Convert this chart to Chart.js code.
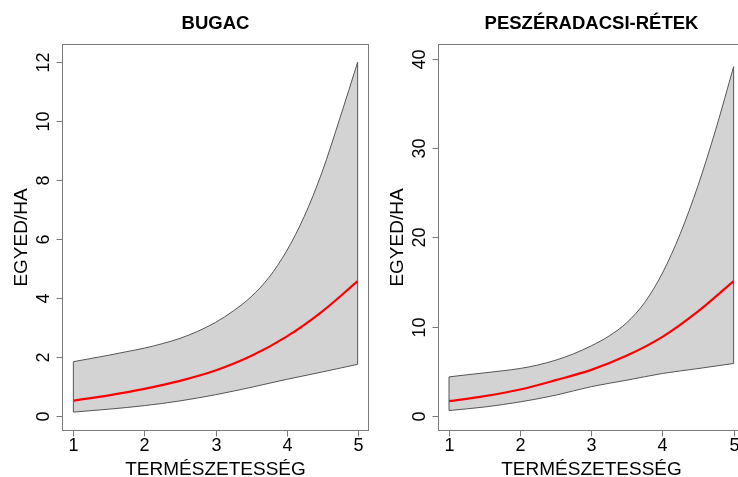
<!DOCTYPE html>
<html>
<head>
<meta charset="utf-8">
<script src="https://cdn.jsdelivr.net/npm/chart.js@4"></script>
<style>
  html, body { margin: 0; padding: 0; background: #fff; }
  #wrap { position: relative; width: 738px; height: 477px; overflow: hidden; }
  #c1 { position: absolute; left: 0; top: 0; }
  #c2 { position: absolute; left: 369px; top: 0; }
</style>
</head>
<body>
<div id="wrap">
  <canvas id="c1" width="369" height="477"></canvas>
  <canvas id="c2" width="380" height="477"></canvas>
</div>
<script>
// ---- data ----
const xCoarse = [1, 1.5, 2, 2.5, 3, 3.5, 4, 4.5, 5];
const xFine = [1, 1.25, 1.5, 1.75, 2, 2.25, 2.5, 2.75, 3, 3.25, 3.5, 3.75, 4, 4.25, 4.5, 4.75, 5];
const xTicks = [1, 2, 3, 4, 5];

const bugacUpper = [1.85, 1.96, 2.07, 2.19, 2.31, 2.46, 2.64, 2.88, 3.18, 3.57, 4.05, 4.7, 5.6, 6.78, 8.28, 10.1, 12.0];
const bugacMean  = [0.53, 0.71, 0.93, 1.2, 1.55, 2.04, 2.7, 3.55, 4.58];
const bugacLower = [0.14, 0.24, 0.36, 0.52, 0.73, 0.98, 1.25, 1.5, 1.76];
const bugacYTicks = [0, 2, 4, 6, 8, 10, 12];

const peszUpper = [4.37, 4.6, 4.82, 5.05, 5.31, 5.7, 6.24, 6.95, 7.85, 8.95, 10.45, 12.7, 16.0, 20.4, 25.8, 32.1, 39.1];
const peszMean  = [1.65, 2.21, 2.96, 4.0, 5.15, 6.75, 8.85, 11.7, 15.1];
const peszLower = [0.6, 1.0, 1.57, 2.32, 3.28, 4.0, 4.75, 5.3, 5.87];
const peszYTicks = [0, 10, 20, 30, 40];

const titles = ['BUGAC', 'PESZÉRADACSI-RÉTEK'];
const xTitle = 'TERMÉSZETESSÉG';
const yTitle = 'EGYED/HA';

const FONT = '"Liberation Sans", Arial, Helvetica, sans-serif';

function pts(xs, ys) { return xs.map((x, i) => ({ x: x, y: ys[i] })); }

const axesPlugin = {
  id: 'rAxes',
  afterDatasetsDraw(chart) {
    const ctx = chart.ctx;
    const xs = chart.scales.x, ys = chart.scales.y;
    const ds = chart.data.datasets;
    // polygon vertical closing edges at first/last x
    const lo = ds[0].data, up = ds[1].data;
    ctx.save();
    ctx.strokeStyle = '#555';
    ctx.lineWidth = 1;
    [[0, 0], [lo.length - 1, up.length - 1]].forEach(([i, j]) => {
      const px = xs.getPixelForValue(lo[i].x);
      ctx.beginPath();
      ctx.moveTo(px, ys.getPixelForValue(lo[i].y));
      ctx.lineTo(px, ys.getPixelForValue(up[j].y));
      ctx.stroke();
    });
    ctx.restore();
  },
  afterDraw(chart, args, opts) {
    const ctx = chart.ctx;
    const a = chart.chartArea;
    const xs = chart.scales.x, ys = chart.scales.y;
    ctx.save();
    // box
    ctx.strokeStyle = '#7a7a7a';
    ctx.lineWidth = 1;
    const L = Math.round(a.left) + 0.5, R = Math.round(a.right) - 0.5;
    const T = Math.round(a.top) + 0.5, B = Math.round(a.bottom) - 0.5;
    ctx.strokeRect(L, T, R - L, B - T);
    // x ticks
    ctx.fillStyle = '#000';
    ctx.font = '18px ' + FONT;
    ctx.textAlign = 'center';
    ctx.textBaseline = 'alphabetic';
    opts.xTicks.forEach(v => {
      const px = Math.round(xs.getPixelForValue(v)) + 0.5;
      ctx.beginPath();
      ctx.moveTo(px, B);
      ctx.lineTo(px, B + 6);
      ctx.stroke();
      ctx.fillText(String(v), px, 450.5);
    });
    // y ticks (rotated labels)
    opts.yTicks.forEach(v => {
      const py = Math.round(ys.getPixelForValue(v)) + 0.5;
      ctx.beginPath();
      ctx.moveTo(L, py);
      ctx.lineTo(L - 6, py);
      ctx.stroke();
      ctx.save();
      ctx.translate(L - 13.5, py);
      ctx.rotate(-Math.PI / 2);
      ctx.fillText(String(v), 0, 0);
      ctx.restore();
    });
    // axis titles
    const cx = (a.left + a.right) / 2;
    const cy = (a.top + a.bottom) / 2;
    ctx.font = '19px ' + FONT;
    ctx.fillText(opts.xTitle, cx, 475);
    ctx.save();
    ctx.translate(L - 36, cy);
    ctx.rotate(-Math.PI / 2);
    ctx.fillText(opts.yTitle, 0, 0);
    ctx.restore();
    // main title
    ctx.font = 'bold 18.5px ' + FONT;
    ctx.fillText(opts.title, cx, 29);
    ctx.restore();
  }
};

function makeChart(id, lower, mean, upper, yTicks, title, xr, yr, pad) {
  return new Chart(document.getElementById(id), {
    type: 'line',
    data: {
      datasets: [
        { label: 'lower', data: pts(xCoarse, lower), borderColor: '#555', borderWidth: 1,
          pointRadius: 0, fill: false, cubicInterpolationMode: 'monotone', order: 2 },
        { label: 'upper', data: pts(xFine, upper), borderColor: '#555', borderWidth: 1,
          pointRadius: 0, fill: '-1', backgroundColor: '#d3d3d3',
          cubicInterpolationMode: 'monotone', order: 2 },
        { label: 'mean', data: pts(xCoarse, mean), borderColor: '#ff0000', borderWidth: 2.2,
          pointRadius: 0, fill: false, cubicInterpolationMode: 'monotone', order: 1 }
      ]
    },
    options: {
      responsive: false,
      animation: false,
      devicePixelRatio: 1,
      layout: { padding: pad },
      plugins: {
        legend: { display: false },
        tooltip: { enabled: false },
        rAxes: { xTicks: xTicks, yTicks: yTicks, title: title, xTitle: xTitle, yTitle: yTitle }
      },
      scales: {
        x: { type: 'linear', display: false, min: xr[0], max: xr[1] },
        y: { type: 'linear', display: false, min: yr[0], max: yr[1] }
      }
    },
    plugins: [axesPlugin]
  });
}

makeChart('c1', bugacLower, bugacMean, bugacUpper, bugacYTicks, titles[0],
  [0.84, 5.16], [-0.5, 12.62], { left: 62, top: 44, right: 0, bottom: 46 });
makeChart('c2', peszLower, peszMean, peszUpper, peszYTicks, titles[1],
  [0.845, 5.16], [-1.69, 41.64], { left: 69, top: 44, right: 4, bottom: 46 });
</script>
</body>
</html>
